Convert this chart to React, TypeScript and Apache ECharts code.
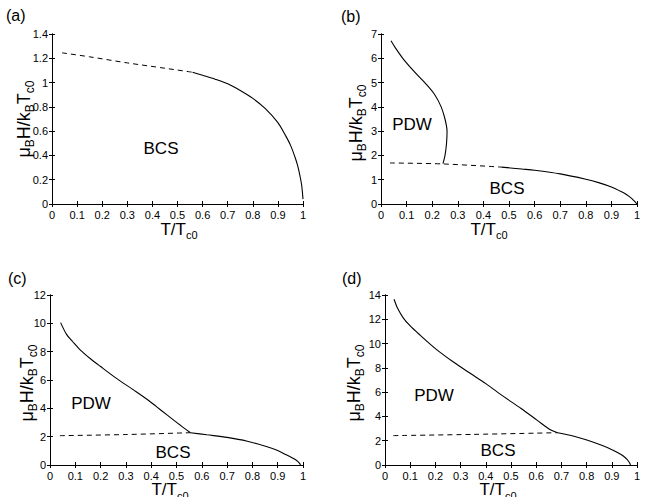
import React, { useEffect, useRef } from 'react';
import * as echarts from 'echarts';

const FONT = '"Liberation Sans", Arial, Helvetica, sans-serif';

// ---------- data (x = T/Tc0, y = muB H / kB Tc0) ----------
// panel (a)
const aDashed = [[0.04, 1.245], [0.15, 1.212], [0.3, 1.162], [0.45, 1.118], [0.56, 1.085]];
const aBCS = [[0.56, 1.085], [0.6, 1.06], [0.65, 1.028], [0.7, 0.99], [0.75, 0.935], [0.8, 0.87], [0.85, 0.785], [0.9, 0.67], [0.93, 0.565], [0.95, 0.485], [0.97, 0.375], [0.98, 0.305], [0.99, 0.21], [0.995, 0.15], [1.0, 0.04]];
const aPDW: number[][] = [];

// panel (b)
const bDashed = [[0.035, 1.69], [0.24, 1.65], [0.47, 1.52]];
const bBCS = [[0.47, 1.52], [0.55, 1.44], [0.6, 1.39], [0.7, 1.24], [0.8, 1.02], [0.85, 0.88], [0.9, 0.7], [0.94, 0.5], [0.96, 0.38], [0.98, 0.22], [0.995, 0.06], [1.0, 0.0]];
const bPDW = [[0.039, 6.72], [0.055, 6.45], [0.085, 6.0], [0.13, 5.45], [0.175, 4.95], [0.21, 4.5], [0.235, 4.0], [0.25, 3.5], [0.258, 3.0], [0.256, 2.5], [0.25, 2.0], [0.242, 1.66]];

// panel (c)
const cDashed = [[0.039, 2.07], [0.3, 2.15], [0.555, 2.28]];
const cBCS = [[0.555, 2.28], [0.62, 2.13], [0.7, 1.95], [0.78, 1.68], [0.855, 1.3], [0.9, 1.02], [0.934, 0.72], [0.96, 0.48], [0.975, 0.32], [0.985, 0.15], [0.99, 0.0]];
const cPDW = [[0.042, 10.05], [0.066, 9.2], [0.09, 8.7], [0.118, 8.15], [0.16, 7.5], [0.2, 6.95], [0.26, 6.15], [0.33, 5.3], [0.39, 4.55], [0.44, 3.85], [0.49, 3.15], [0.53, 2.6], [0.555, 2.28]];

// panel (d)
const dDashed = [[0.033, 2.42], [0.35, 2.52], [0.685, 2.66]];
const dBCS = [[0.685, 2.66], [0.75, 2.37], [0.801, 2.06], [0.86, 1.62], [0.907, 1.2], [0.935, 0.88], [0.955, 0.58], [0.965, 0.35], [0.972, 0.12], [0.974, 0.0]];
const dPDW = [[0.036, 13.65], [0.05, 12.9], [0.073, 12.1], [0.1, 11.45], [0.139, 10.7], [0.205, 9.5], [0.27, 8.5], [0.338, 7.55], [0.4, 6.7], [0.47, 5.65], [0.54, 4.65], [0.603, 3.7], [0.656, 2.9], [0.685, 2.66]];

const panelLetters = ['(a)', '(b)', '(c)', '(d)'];
const yMaxes = [1.4, 7, 12, 14];
const yIntervals = [0.2, 1, 2, 2];
const xMax = 1;
const xInterval = 0.1;

const dashedSets = [aDashed, bDashed, cDashed, dDashed];
const bcsSets = [aBCS, bBCS, cBCS, dBCS];
const pdwSets = [aPDW, bPDW, cPDW, dPDW];

// ---------- layout ----------
const grids = [
  { left: 52, top: 34, width: 251, height: 170 },
  { left: 381, top: 34, width: 256, height: 170 },
  { left: 50, top: 295, width: 253, height: 170 },
  { left: 385, top: 295, width: 252, height: 170 },
];
const letterPos = [[6, 7], [341, 8], [8, 270], [342, 270]];
const xTitlePos = [[179, 229], [489, 229], [170, 489.5], [498, 489.5]];
const yTitlePos = [[24, 119], [355.5, 123], [26.5, 383], [354, 383]];
const bcsPos = [[161, 148], [507, 188], [173, 452], [498, 450]];
const pdwPos = [null, [412, 124], [91, 403], [434, 395]];

const fmt = (v: number) => String(Math.round(v * 10) / 10);

const richStyles = (main: number, sub: number) => ({
  m: { fontSize: main, lineHeight: main, verticalAlign: 'top', fontFamily: FONT, fill: '#000' },
  s: { fontSize: sub, lineHeight: sub, verticalAlign: 'top', padding: [Math.round(main * 0.52), 0, 0, 0], fontFamily: FONT, fill: '#000' },
});

export default function App() {
  const ref = useRef<HTMLDivElement>(null);
  useEffect(() => {
    if (!ref.current) return;
    const chart = echarts.init(ref.current, undefined, { renderer: 'svg' });
    const xAxes: any[] = [];
    const yAxes: any[] = [];
    const series: any[] = [];
    const graphic: any[] = [];

    grids.forEach((g, i) => {
      const axisLine = { show: true, lineStyle: { color: '#000', width: 1 } };
      const tick = { show: true, inside: true, length: 3, lineStyle: { color: '#000', width: 1 } };
      const lbl = { color: '#000', fontSize: 11, fontFamily: FONT };
      xAxes.push({
        type: 'value', gridIndex: i, position: 'bottom', min: 0, max: xMax, interval: xInterval,
        axisLine, axisTick: tick, splitLine: { show: false },
        axisLabel: { ...lbl, margin: 5, formatter: fmt },
      });
      xAxes.push({
        type: 'value', gridIndex: i, position: 'top', min: 0, max: xMax, interval: xInterval,
        axisLine, axisTick: tick, splitLine: { show: false }, axisLabel: { show: false },
      });
      yAxes.push({
        type: 'value', gridIndex: i, position: 'left', min: 0, max: yMaxes[i], interval: yIntervals[i],
        axisLine, axisTick: tick, splitLine: { show: false },
        axisLabel: { ...lbl, margin: 4, formatter: fmt },
      });
      yAxes.push({
        type: 'value', gridIndex: i, position: 'right', min: 0, max: yMaxes[i], interval: yIntervals[i],
        axisLine, axisTick: tick, splitLine: { show: false }, axisLabel: { show: false },
      });

      const base = { type: 'line', xAxisIndex: 2 * i, yAxisIndex: 2 * i, showSymbol: false, symbol: 'none', smooth: 0.3, silent: true };
      series.push({ ...base, name: 'dashed' + i, data: dashedSets[i], lineStyle: { color: '#000', width: 1, type: [5, 4] } });
      series.push({ ...base, name: 'bcs' + i, data: bcsSets[i], lineStyle: { color: '#000', width: 1.1 } });
      if (pdwSets[i].length) {
        series.push({ ...base, name: 'pdw' + i, data: pdwSets[i], lineStyle: { color: '#000', width: 1.1 } });
      }

      graphic.push({
        type: 'text', x: letterPos[i][0], y: letterPos[i][1],
        style: { text: panelLetters[i], fontSize: 16, fontFamily: FONT, fill: '#000', align: 'left', verticalAlign: 'top' },
      });
      graphic.push({
        type: 'text', x: xTitlePos[i][0], y: xTitlePos[i][1],
        style: { text: '{m|T/T}{s|c0}', rich: richStyles(17, 11), align: 'center', verticalAlign: 'middle', fill: '#000' },
      });
      graphic.push({
        type: 'text', x: yTitlePos[i][0], y: yTitlePos[i][1], rotation: Math.PI / 2,
        style: { text: '{m|μ}{s|B}{m|H/k}{s|B}{m|T}{s|c0}', rich: richStyles(18, 12), align: 'center', verticalAlign: 'middle', fill: '#000' },
      });
      graphic.push({
        type: 'text', x: bcsPos[i][0], y: bcsPos[i][1],
        style: { text: 'BCS', fontSize: 17, fontFamily: FONT, fill: '#000', align: 'center', verticalAlign: 'middle' },
      });
      const p = pdwPos[i];
      if (p) {
        graphic.push({
          type: 'text', x: p[0], y: p[1],
          style: { text: 'PDW', fontSize: 17, fontFamily: FONT, fill: '#000', align: 'center', verticalAlign: 'middle' },
        });
      }
    });

    chart.setOption({
      animation: false,
      backgroundColor: '#fff',
      grid: grids.map((g) => ({ ...g, containLabel: false })),
      xAxis: xAxes,
      yAxis: yAxes,
      series,
      graphic,
    });
    return () => chart.dispose();
  }, []);
  return <div ref={ref} style={{ position: 'absolute', left: 0, top: 0, width: 647, height: 497 }} />;
}
